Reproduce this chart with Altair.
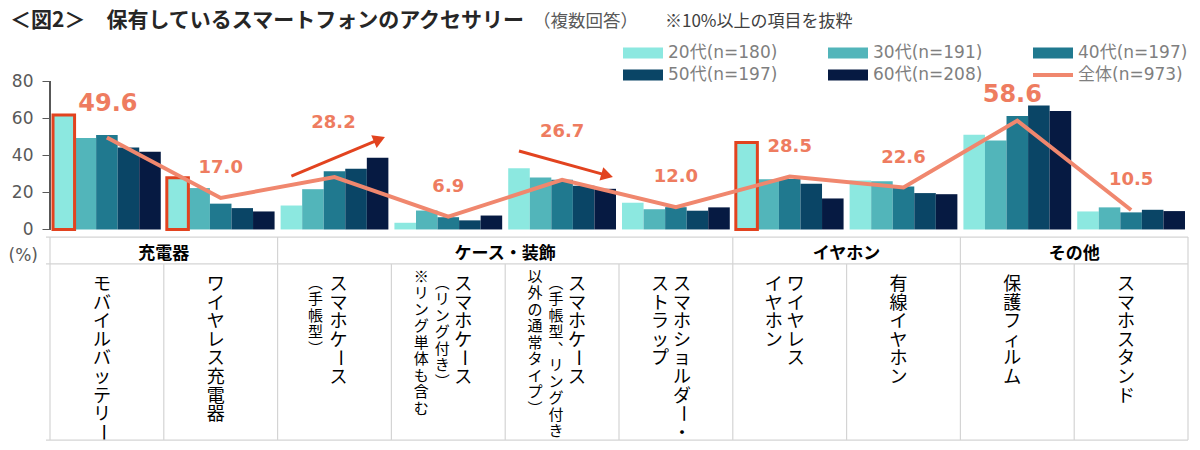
import altair as alt
import pandas as pd

# ---------------- data ----------------
title_text = "＜図2＞　保有しているスマートフォンのアクセサリー"
note_text_1 = "（複数回答）"
note_text_2 = "※10%以上の項目を抜粋"
axis_unit = "(%)"

categories = [
    "モバイルバッテリー",
    "ワイヤレス充電器",
    "スマホケース(手帳型)",
    "スマホケース(リング付き)",
    "スマホケース(通常タイプ)",
    "スマホショルダー・ストラップ",
    "ワイヤレスイヤホン",
    "有線イヤホン",
    "保護フィルム",
    "スマホスタンド",
]
groups = ["充電器", "充電器", "ケース・装飾", "ケース・装飾", "ケース・装飾",
          "ケース・装飾", "イヤホン", "イヤホン", "その他", "その他"]
label_main = [["モバイルバッテリー"], ["ワイヤレス充電器"], ["スマホケース"],
              ["スマホケース"], ["スマホケース"], ["スマホショルダー・", "ストラップ"],
              ["ワイヤレス", "イヤホン"], ["有線イヤホン"], ["保護フィルム"], ["スマホスタンド"]]
label_note = [[], [], ["(手帳型)"], ["(リング付き)", "※リング単体も含む"],
              ["(手帳型、リング付き", "以外の通常タイプ)"], [], [], [], [], []]

ages = ["20代(n=180)", "30代(n=191)", "40代(n=197)", "50代(n=197)", "60代(n=208)"]
total_name = "全体(n=973)"
age20 = [61.7, 27.9, 12.9, 3.6, 33.0, 14.4, 46.8, 26.4, 51.0, 9.7]
age30 = [49.3, 22.3, 21.7, 10.2, 28.0, 10.9, 27.0, 26.0, 48.0, 11.9]
age40 = [50.9, 13.9, 31.3, 6.6, 26.8, 12.0, 27.2, 23.2, 61.1, 9.2]
age50 = [44.2, 11.5, 32.7, 4.9, 23.5, 10.1, 24.6, 19.6, 66.8, 10.6]
age60 = [41.9, 9.7, 38.6, 7.5, 21.9, 11.9, 16.7, 19.0, 63.8, 9.9]
total = [49.6, 17.0, 28.2, 6.9, 26.7, 12.0, 28.5, 22.6, 58.6, 10.5]
highlighted = ["モバイルバッテリー", "ワイヤレス充電器", "ワイヤレスイヤホン"]  # 20代 framed

# ---------------- styles ----------------
AGE_COLORS = ["#8CE8E0", "#52B5BA", "#20798F", "#0A4566", "#061A42"]
LINE_COLOR = "#F0876E"
LABEL_COLOR = "#EE7C60"
RED = "#E2431F"
GRID = "#D4D4D4"
AXIS_GRAY = "#595959"
JP = "Noto Sans CJK JP"
NUM = "DejaVu Sans, Noto Sans CJK JP"

W, H = 1138, 360
Y_MIN, Y_MAX = -114, 80
PXU = H / (Y_MAX - Y_MIN)          # pixels per data unit
TABLE_TOP, HEAD_BOT, TABLE_BOT = -4.1, -18.6, -113.5

# arrows: (category, start age, start y, end age, end y, head angle)
ARROWS = [(categories[2], ages[0], 28.8, ages[4], 48.2, 67),
          (categories[4], ages[0], 42.3, ages[4], 29.4, 106)]

# ---------------- tables ----------------
series = [age20, age30, age40, age50, age60]
df = pd.DataFrame([
    {"cat": c, "age": a, "value": series[j][i]}
    for i, c in enumerate(categories) for j, a in enumerate(ages)
])
df_hi = df[(df["cat"].isin(highlighted)) & (df["age"] == ages[0])]
df_tot = pd.DataFrame({"cat": categories, "total": total})

x_scale = alt.Scale(domain=categories, paddingInner=0, paddingOuter=0)
def X(bp=None, field="cat"):
    if bp is None:
        return alt.X(f"{field}:N", sort=categories, scale=x_scale, axis=None)
    return alt.X(f"{field}:N", sort=categories, scale=x_scale, axis=None, bandPosition=bp)

xoff = alt.XOffset("age:N", sort=ages,
                   scale=alt.Scale(domain=ages, paddingInner=0, paddingOuter=0.14))
y_scale = alt.Scale(domain=[Y_MIN, Y_MAX], nice=False, zero=False)

# legend: entries fill column by column, so order the domain to read row by row
legend_names = ages + [total_name]
legend_colors = AGE_COLORS + [LINE_COLOR]
n_cols = 3
n_rows = (len(legend_names) + n_cols - 1) // n_cols
order = [r * n_cols + c for c in range(n_cols) for r in range(n_rows)]
dom = [legend_names[k] for k in order]
rng = [legend_colors[k] for k in order]

BOX = "M-2,-0.54H2V0.54H-2Z"
LINE_SYM = "M-2,-0.2H2V0.2H-2Z"
color_enc = alt.Color(
    "age:N",
    scale=alt.Scale(domain=dom, range=rng),
    legend=alt.Legend(
        title=None, orient="none", legendX=583, legendY=-38, columns=n_cols,
        symbolType=alt.ExprRef(expr=f"datum.value === '{total_name}' ? '{LINE_SYM}' : '{BOX}'"),
        symbolSize=400, symbolStrokeWidth=0, gridAlign="all",
        labelFontSize=17, labelFont=NUM, labelColor="#7F7F7F", labelOffset=15,
        labelLimit=0, columnPadding=50, rowPadding=4,
    ),
)

bars = alt.Chart(df).mark_bar().encode(
    x=X(), xOffset=xoff,
    y=alt.Y("value:Q", scale=y_scale, axis=alt.Axis(
        values=[0, 20, 40, 60, 80], domain=False, grid=False, tickSize=8,
        tickColor=AXIS_GRAY, labelFontSize=17, labelFont="DejaVu Sans",
        labelColor=AXIS_GRAY, labelPadding=9, title=axis_unit, titleAngle=0,
        titleAlign="left", titleBaseline="middle", titleX=-42, titleY=174,
        titleFontSize=17, titleFont="DejaVu Sans", titleFontWeight="normal",
        titleColor=AXIS_GRAY)),
    y2=alt.datum(0),
    color=color_enc,
)

axis_line = alt.Chart(df_tot).mark_rule(color=AXIS_GRAY, strokeWidth=1).encode(
    x=alt.value(0), y=alt.datum(0), y2=alt.datum(80))

frames = alt.Chart(df_hi).mark_bar(fillOpacity=0, stroke=RED, strokeWidth=3).encode(
    x=X(), xOffset=xoff, y="value:Q", y2=alt.datum(0))

line = alt.Chart(df_tot).mark_line(color=LINE_COLOR, strokeWidth=4).encode(
    x=X(), y="total:Q")

# value labels
NUDGE = {categories[0]: (1, -33, 24), categories[2]: (-1, -54, 18),
         categories[4]: (0, -48, 18), categories[8]: (-5, -26, 24)}
DEFAULT_NUDGE = (0, -30, 18)
nudge_groups = {}
for c in categories:
    nudge_groups.setdefault(NUDGE.get(c, DEFAULT_NUDGE), []).append(c)
label_layers = []
for (dx, dy, size), cats in nudge_groups.items():
    label_layers.append(
        alt.Chart(df_tot).transform_filter(alt.FieldOneOfPredicate(field="cat", oneOf=cats))
        .mark_text(font="DejaVu Sans", fontWeight="bold", fontSize=size,
                   color=LABEL_COLOR, dx=dx, dy=dy, baseline="middle")
        .encode(x=X(), y="total:Q", text=alt.Text("total:Q", format=".1f")))

# arrows
arrow_layers = []
for k, (c, a0, y0, a1, y1, ang) in enumerate(ARROWS):
    d = pd.DataFrame({"cat": [c, c], "age": [a0, a1], "ay": [y0, y1], "ord": [0, 1]})
    arrow_layers.append(alt.Chart(d).mark_line(color=RED, strokeWidth=3).encode(
        x=X(), xOffset=xoff, y="ay:Q", order="ord:Q"))
    arrow_layers.append(alt.Chart(d.iloc[[1]]).mark_point(
        shape="triangle", filled=True, size=190, color=RED, opacity=1, angle=ang).encode(
        x=X(), xOffset=xoff, y="ay:Q"))

# table
df_cat = pd.DataFrame({"cat": categories, "grp": groups})
hlines = alt.Chart(pd.DataFrame({"ty": [TABLE_TOP, HEAD_BOT, TABLE_BOT]})).mark_rule(
    color=GRID, strokeWidth=1.2).encode(y="ty:Q", x=alt.value(-4), x2=alt.value(W))
vlines = alt.Chart(df_cat).mark_rule(color=GRID, strokeWidth=1.2).encode(
    x=X(0), y=alt.datum(HEAD_BOT), y2=alt.datum(TABLE_BOT))
right_edge = alt.Chart(df_cat.iloc[[-1]]).mark_rule(color=GRID, strokeWidth=1.2).encode(
    x=X(1), y=alt.datum(TABLE_TOP), y2=alt.datum(TABLE_BOT))
group_first = df_cat.drop_duplicates("grp", keep="first")
gvlines = alt.Chart(group_first).mark_rule(color=GRID, strokeWidth=1.2).encode(
    x=X(0), y=alt.datum(TABLE_TOP), y2=alt.datum(HEAD_BOT))

grp_rows = []
for g in dict.fromkeys(groups):
    members = [c for c, gg in zip(categories, groups) if gg == g]
    grp_rows.append({"grp": g, "ccat": members[len(members) // 2]})
group_text = alt.Chart(pd.DataFrame(grp_rows)).mark_text(
    font=JP, fontWeight="bold", fontSize=17, color="#000000", baseline="middle", dy=3).encode(
    x=X(0, "ccat"), y=alt.datum((TABLE_TOP + HEAD_BOT) / 2), text="grp:N")

# vertical (top-to-bottom) category labels; the long-vowel mark is drawn
# separately, rotated 90 degrees, as in vertical Japanese typesetting
VERT = str.maketrans({"(": "︵", ")": "︶", "、": "︑"})

# slot -> (dx, fontSize, dy, lineHeight)
SLOT_STYLE = {
    "single": (-5, 18, 12, 18.6), "pair_r": (6, 18, 12, 18.6), "pair_l": (-16, 18, 12, 18.6),
    "c1_main": (4, 18, 12, 18.6), "c1_n1": (-19, 15, 12, 16.5),
    "c2_main": (15, 18, 12, 18.6), "c2_n1": (-6, 15, 12, 16.5), "c2_n2": (-27, 15, 6, 16.5),
}
seg_rows, bar_rows = [], []
for i, c in enumerate(categories):
    mains, notes = label_main[i], label_note[i]
    if len(mains) == 2:
        slots = [("pair_r", mains[0]), ("pair_l", mains[1])]
    elif len(notes) == 1:
        slots = [("c1_main", mains[0]), ("c1_n1", notes[0])]
    elif len(notes) == 2:
        slots = [("c2_main", mains[0]), ("c2_n1", notes[0]), ("c2_n2", notes[1])]
    else:
        slots = [("single", mains[0])]
    for s, t in slots:
        _, size, dy, lh = SLOT_STYLE[s]
        seg, start = "", 0
        for k, ch in enumerate(t + "ー"):
            if ch == "ー":
                if seg:
                    seg_rows.append({"cat": c, "slot": s,
                                     "txt": "\n".join(seg.translate(VERT)),
                                     "ty": HEAD_BOT - (dy + start * lh) / PXU})
                if k < len(t):
                    bar_rows.append({"cat": c, "slot": s, "ch": ch,
                                     "cy": HEAD_BOT - (dy + k * lh + 0.41 * size) / PXU})
                seg, start = "", k + 1
            else:
                seg += ch
df_seg = pd.DataFrame(seg_rows)
df_bar = pd.DataFrame(bar_rows)
cat_text_layers = []
for s, (dx, size, dy, lh) in SLOT_STYLE.items():
    cat_text_layers.append(
        alt.Chart(df_seg).transform_filter(alt.datum.slot == s)
        .mark_text(font=JP, fontSize=size, lineHeight=lh,
                   lineBreak="\n", color="#000000", baseline="top", align="center", dx=dx)
        .encode(x=X(), y=alt.Y("ty:Q"), text="txt:N"))
    if s in set(df_bar["slot"]):
        # rotated frame: screen-x offset becomes -dy
        cat_text_layers.append(
            alt.Chart(df_bar).transform_filter(alt.datum.slot == s)
            .mark_text(font=JP, fontSize=size, color="#000000", baseline="middle",
                       align="center", angle=90, dy=-dx)
            .encode(x=X(), y=alt.Y("cy:Q"), text="ch:N"))

# titles
t1 = alt.Chart(pd.DataFrame({"t": [title_text]})).mark_text(
    font=JP, fontSize=21, fontWeight="bold", color="#262626", align="left",
    baseline="middle").encode(x=alt.value(-40), y=alt.value(-60), text="t:N")
t2 = alt.Chart(pd.DataFrame({"t": [note_text_1]})).mark_text(
    font=JP, fontSize=17.5, color=AXIS_GRAY, align="left",
    baseline="middle").encode(x=alt.value(483), y=alt.value(-59), text="t:N")
t3 = alt.Chart(pd.DataFrame({"t": [note_text_2]})).mark_text(
    font=JP, fontSize=17, color="#404040", align="left",
    baseline="middle").encode(x=alt.value(615), y=alt.value(-59), text="t:N")

chart = alt.layer(
    bars, axis_line, frames, line, *label_layers, *arrow_layers,
    hlines, vlines, right_edge, gvlines, group_text, *cat_text_layers,
    t1, t2, t3,
).properties(
    width=W, height=H,
    autosize=alt.AutoSizeParams(type="none"),
    padding={"left": 42, "top": 73, "right": 4, "bottom": 5},
).configure_view(stroke=None)

chart.save("out.html", embed_options={"renderer": "svg", "actions": False})
